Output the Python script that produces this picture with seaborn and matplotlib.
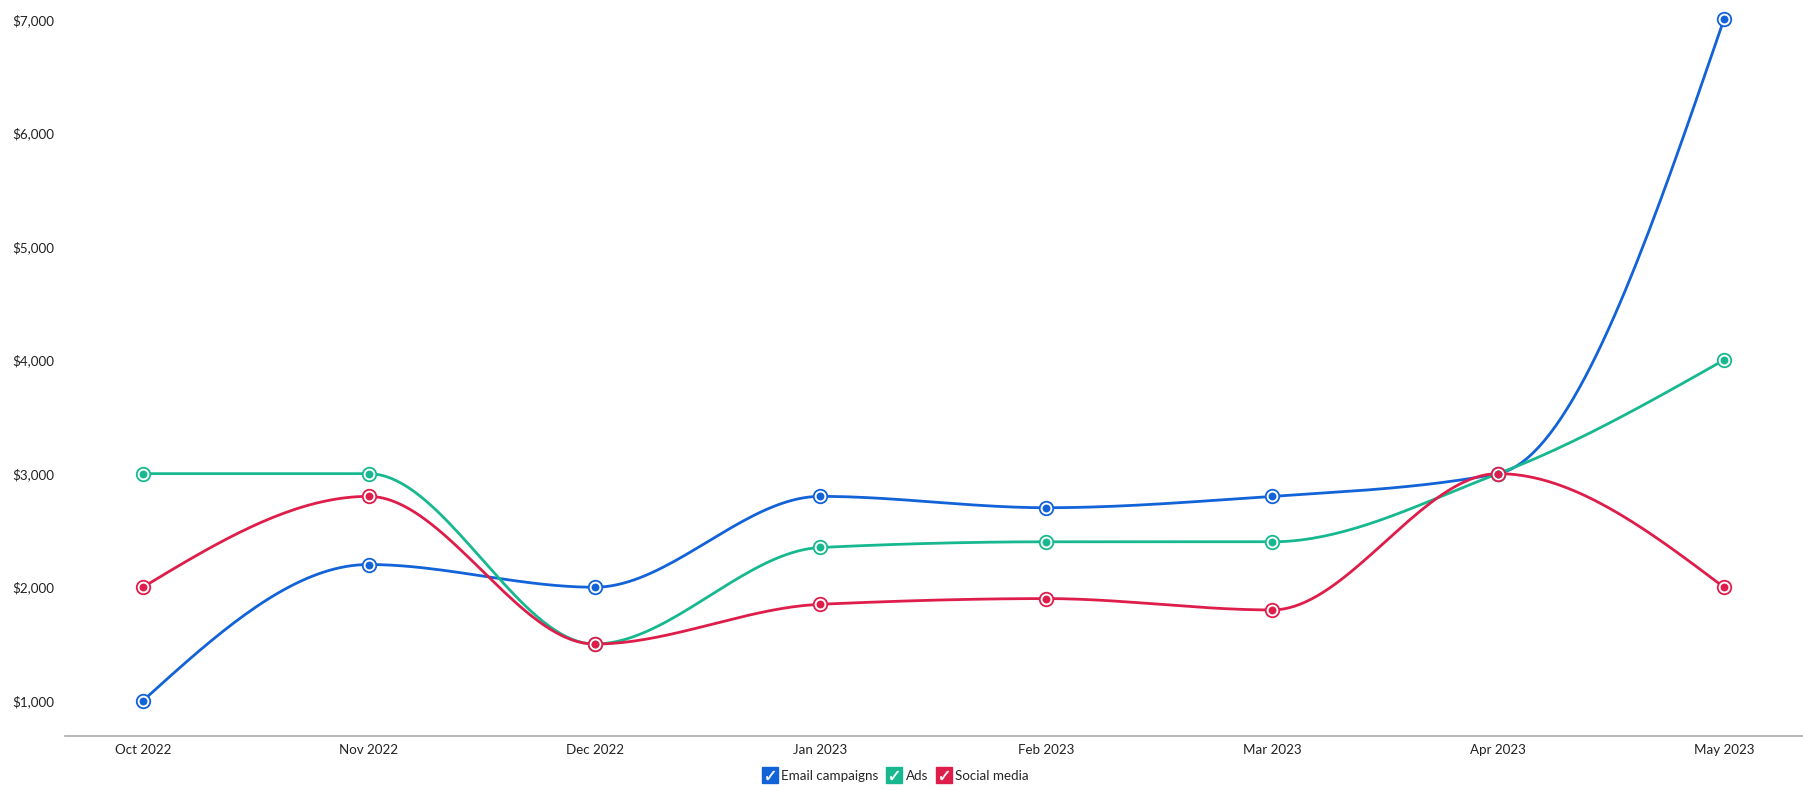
import numpy as np
import pandas as pd
import matplotlib
matplotlib.use("Agg")
import matplotlib.pyplot as plt
import seaborn as sns
from matplotlib.lines import Line2D
from matplotlib.legend_handler import HandlerTuple

months = ["Oct 2022", "Nov 2022", "Dec 2022", "Jan 2023", "Feb 2023", "Mar 2023", "Apr 2023", "May 2023"]
email = [1000, 2200, 2000, 2800, 2700, 2800, 3000, 7000]
ads = [3000, 3000, 1500, 2350, 2400, 2400, 3000, 4000]
social = [2000, 2800, 1500, 1850, 1900, 1800, 3000, 2000]
series_names = ["Email campaigns", "Ads", "Social media"]
colors = ["#1262d8", "#17b890", "#de1d4b"]
yticks = [1000, 2000, 3000, 4000, 5000, 6000, 7000]


def monotone(x, y, n=40):
    x = np.asarray(x, float); y = np.asarray(y, float)
    h = np.diff(x); d = np.diff(y) / h
    m = np.zeros_like(y)
    for i in range(1, len(y) - 1):
        if d[i - 1] * d[i] <= 0:
            m[i] = 0
        else:
            m[i] = 3 * (h[i - 1] + h[i]) / ((2 * h[i] + h[i - 1]) / d[i - 1] + (h[i] + 2 * h[i - 1]) / d[i])
    m[0] = (3 * d[0] - m[1]) / 2
    m[-1] = (3 * d[-1] - m[-2]) / 2
    xs, ys = [], []
    for i in range(len(x) - 1):
        t = np.linspace(0, 1, n, endpoint=(i == len(x) - 2))
        h00 = 2 * t**3 - 3 * t**2 + 1; h10 = t**3 - 2 * t**2 + t
        h01 = -2 * t**3 + 3 * t**2; h11 = t**3 - t**2
        xs.append(x[i] + t * h[i])
        ys.append(h00 * y[i] + h10 * h[i] * m[i] + h01 * y[i + 1] + h11 * h[i] * m[i + 1])
    return np.concatenate(xs), np.concatenate(ys)


sns.set_theme(style="white")
plt.rcParams["font.family"] = ["Lato", "DejaVu Sans"]

fig = plt.figure(figsize=(18.03, 7.91), dpi=100)
ax = fig.add_axes([0.036, 0.0695, 0.964, 0.9305])

xpos = np.arange(len(months))
handles = []
for name, vals, c in zip(series_names, [email, ads, social], colors):
    sx, sy = monotone(xpos, vals)
    sns.lineplot(x=sx, y=sy, ax=ax, color=c, lw=2.0, sort=False, zorder=3)
    df = pd.DataFrame({"x": xpos, "y": vals})
    sns.scatterplot(data=df, x="x", y="y", ax=ax, s=95, color="white", edgecolor=c, linewidth=1.3, zorder=4)
    sns.scatterplot(data=df, x="x", y="y", ax=ax, s=32, color=c, edgecolor=c, linewidth=0, zorder=5)
    sq = Line2D([], [], marker="s", ms=11, color=c, ls="", markeredgecolor=c)
    ck = Line2D([], [], marker="$✓$", ms=6.5, color="white", ls="", markeredgewidth=0.3)
    handles.append((sq, ck))

ax.set_xlim(-0.345, 7.35)
ax.set_ylim(690, 7170)
ax.set_xticks(xpos)
ax.set_xticklabels(months)
ax.set_yticks(yticks)
ax.set_yticklabels([f"${v:,}" for v in yticks])
ax.tick_params(axis="x", length=0, pad=6, labelsize=9.6, colors="#222222")
ax.tick_params(axis="y", length=4, width=1, color="#cccccc", pad=4, labelsize=9.6, labelcolor="#222222")
for s in ["top", "right", "left"]:
    ax.spines[s].set_visible(False)
ax.spines["bottom"].set_color("#aaaaaa")
ax.spines["bottom"].set_linewidth(1.2)
ax.grid(False)
ax.set_xlabel("")
ax.set_ylabel("")

fig.legend(handles, series_names, handler_map={tuple: HandlerTuple(ndivide=None, pad=-1.0)},
           loc="center", bbox_to_anchor=(0.497, 0.019), ncol=3, frameon=False,
           fontsize=9.6, handlelength=1.0, handletextpad=0.35, columnspacing=0.7)

fig.savefig("out.png", dpi=100)
